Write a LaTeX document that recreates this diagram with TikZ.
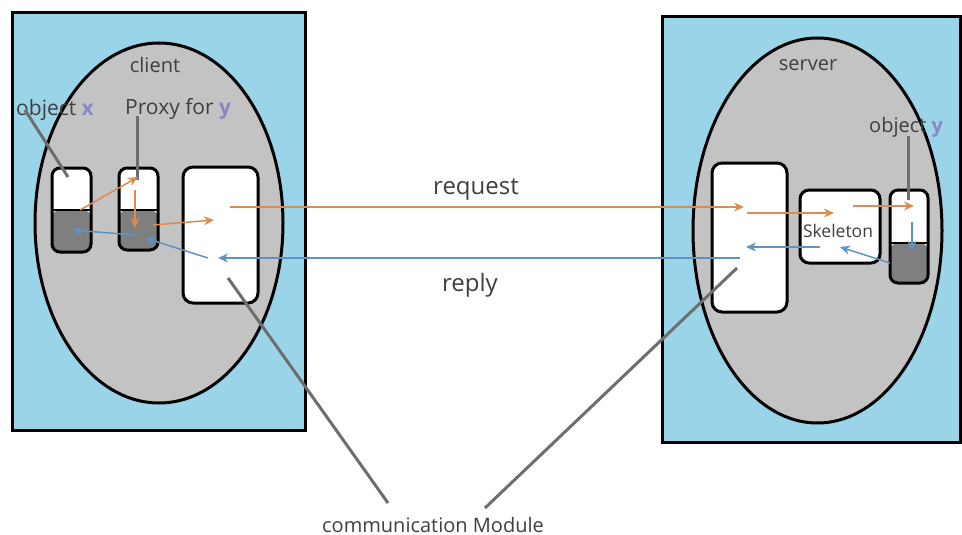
\documentclass[tikz,border=0pt]{standalone}
\usepackage{fontspec}
\setmainfont{Open Sans}
\usetikzlibrary{shapes.geometric,arrows.meta}
\definecolor{skyb}{HTML}{99D4E8}
\definecolor{ellg}{HTML}{C3C3C3}
\definecolor{darkg}{HTML}{7F7F7F}
\definecolor{ora}{HTML}{E08A4E}
\definecolor{blu}{HTML}{5E93C2}
\definecolor{ptr}{HTML}{6E6E6E}
\definecolor{txt}{HTML}{3F3F3F}
\definecolor{lav}{HTML}{8A88C4}
\begin{document}
\begin{tikzpicture}[x=1pt,y=-1pt,
  hostbox/.style={draw=black, line width=3pt, fill=skyb, inner sep=0pt, outer sep=0pt},
  procell/.style={ellipse, draw=black, line width=3pt, fill=ellg, inner sep=0pt, outer sep=0pt},
  modbox/.style={draw=black, line width=3pt, fill=white, rounded corners=10pt, inner sep=0pt, outer sep=0pt},
  objbox/.style={draw=black, line width=3pt, fill=white, rounded corners=8pt, inner sep=0pt, outer sep=0pt,
     path picture={\fill[darkg] ([yshift=-#1]path picture bounding box.west) rectangle (path picture bounding box.south east);
                   \draw[black, line width=2.6pt] ([yshift=-#1]path picture bounding box.west) -- ([yshift=-#1]path picture bounding box.east);}},
  lbl/.style={text=txt, inner sep=0pt},
  oarr/.style={draw=ora, line width=1.5pt, -{Stealth[length=10pt,width=9pt]}},
  barr/.style={draw=blu, line width=1.5pt, -{Stealth[length=10pt,width=9pt]}},
  pointer/.style={draw=ptr, line width=3pt}
]
\useasboundingbox (0,0) rectangle (962,535);

% hosts
\node[hostbox, minimum width=293pt, minimum height=417pt] (lhost) at (158.5,221.5) {};
\node[hostbox, minimum width=298pt, minimum height=425pt] (rhost) at (811,229.5) {};
\node[procell, minimum width=248pt, minimum height=360pt] (client) at (159,223) {};
\node[procell, minimum width=249pt, minimum height=385pt] (server) at (817.5,230.5) {};

% boxes
\node[objbox=0pt, minimum width=39pt, minimum height=84pt] (ox) at (71.5,210) {};
\node[objbox=1pt, minimum width=39pt, minimum height=82pt] (proxy) at (138.5,209) {};
\node[modbox, minimum width=75pt, minimum height=136pt] (lcm) at (220.5,235) {};
\node[modbox, minimum width=75pt, minimum height=149pt] (rcm) at (749.5,237.5) {};
\node[modbox, rounded corners=9pt, minimum width=80pt, minimum height=73pt] (skel) at (840,226.5) {};
\node[objbox=6.5pt, minimum width=38pt, minimum height=93pt] (oy) at (909,236.5) {};

% labels
\node[lbl, font=\fontsize{20}{24}\selectfont] (tclient) at (155,65) {client};
\node[lbl, font=\fontsize{20}{24}\selectfont] (tserver) at (808,65) {server};
\node[lbl, anchor=base west, font=\fontsize{21}{25}\selectfont] (tox) at (16,115) {object \textcolor{lav}{\bfseries x}};
\node[lbl, anchor=base west, font=\fontsize{21}{25}\selectfont] (tproxy) at (125,114) {Proxy for \textcolor{lav}{\bfseries y}};
\node[lbl, anchor=base west, font=\fontsize{20}{24}\selectfont] (toy) at (869,132) {object \textcolor{lav}{\bfseries y}};
\node[lbl, font=\fontsize{17.5}{21}\selectfont] (tskel) at (838,231) {Skeleton};
\node[lbl, anchor=base, font=\fontsize{24}{28}\selectfont] (treq) at (476,194) {request};
\node[lbl, anchor=base, font=\fontsize{24}{28}\selectfont] (trep) at (470,291) {reply};
\node[lbl, anchor=base, font=\fontsize{20}{24}\selectfont] (tcm) at (433,532) {communication Module};

% connector end points
\coordinate (p1a) at (25,110);  \coordinate (p1b) at (68,177);
\coordinate (p2a) at (137,116); \coordinate (p2b) at (137,180);
\coordinate (p3a) at (908,136); \coordinate (p3b) at (908,200);
\coordinate (c1a) at (228,278); \coordinate (c1b) at (388,503);
\coordinate (c2a) at (737,268); \coordinate (c2b) at (485,508);

\coordinate (a1s) at (80,210);  \coordinate (a1e) at (138,177);
\coordinate (a2s) at (135,190); \coordinate (a2e) at (135,228);
\coordinate (a3s) at (153,225); \coordinate (a3e) at (214,220);
\coordinate (rqs) at (230,207); \coordinate (rqe) at (744,207);
\coordinate (r1s) at (747,213); \coordinate (r1e) at (834,213);
\coordinate (r2s) at (853,206); \coordinate (r2e) at (914,206);

\coordinate (b1s) at (912,222); \coordinate (b1e) at (912,251);
\coordinate (b2s) at (890,263); \coordinate (b2e) at (840,247);
\coordinate (b3s) at (820,247); \coordinate (b3e) at (746,247);
\coordinate (rps) at (740,258); \coordinate (rpe) at (218,258);
\coordinate (b4s) at (208,258); \coordinate (b4e) at (145,238);
\coordinate (b5s) at (135,235); \coordinate (b5e) at (72,230);

% pointers
\draw[pointer] (p1a) -- (p1b);
\draw[pointer] (p2a) -- (p2b);
\draw[pointer] (p3a) -- (p3b);
\draw[pointer] (c1a) -- (c1b);
\draw[pointer] (c2a) -- (c2b);

% request path
\draw[oarr] (a1s) -- (a1e);
\draw[oarr] (a2s) -- (a2e);
\draw[oarr] (a3s) -- (a3e);
\draw[oarr] (rqs) -- (rqe);
\draw[oarr] (r1s) -- (r1e);
\draw[oarr] (r2s) -- (r2e);

% reply path
\draw[barr] (b1s) -- (b1e);
\draw[barr] (b2s) -- (b2e);
\draw[barr] (b3s) -- (b3e);
\draw[barr] (rps) -- (rpe);
\draw[barr] (b4s) -- (b4e);
\draw[barr] (b5s) -- (b5e);
\end{tikzpicture}
\end{document}
